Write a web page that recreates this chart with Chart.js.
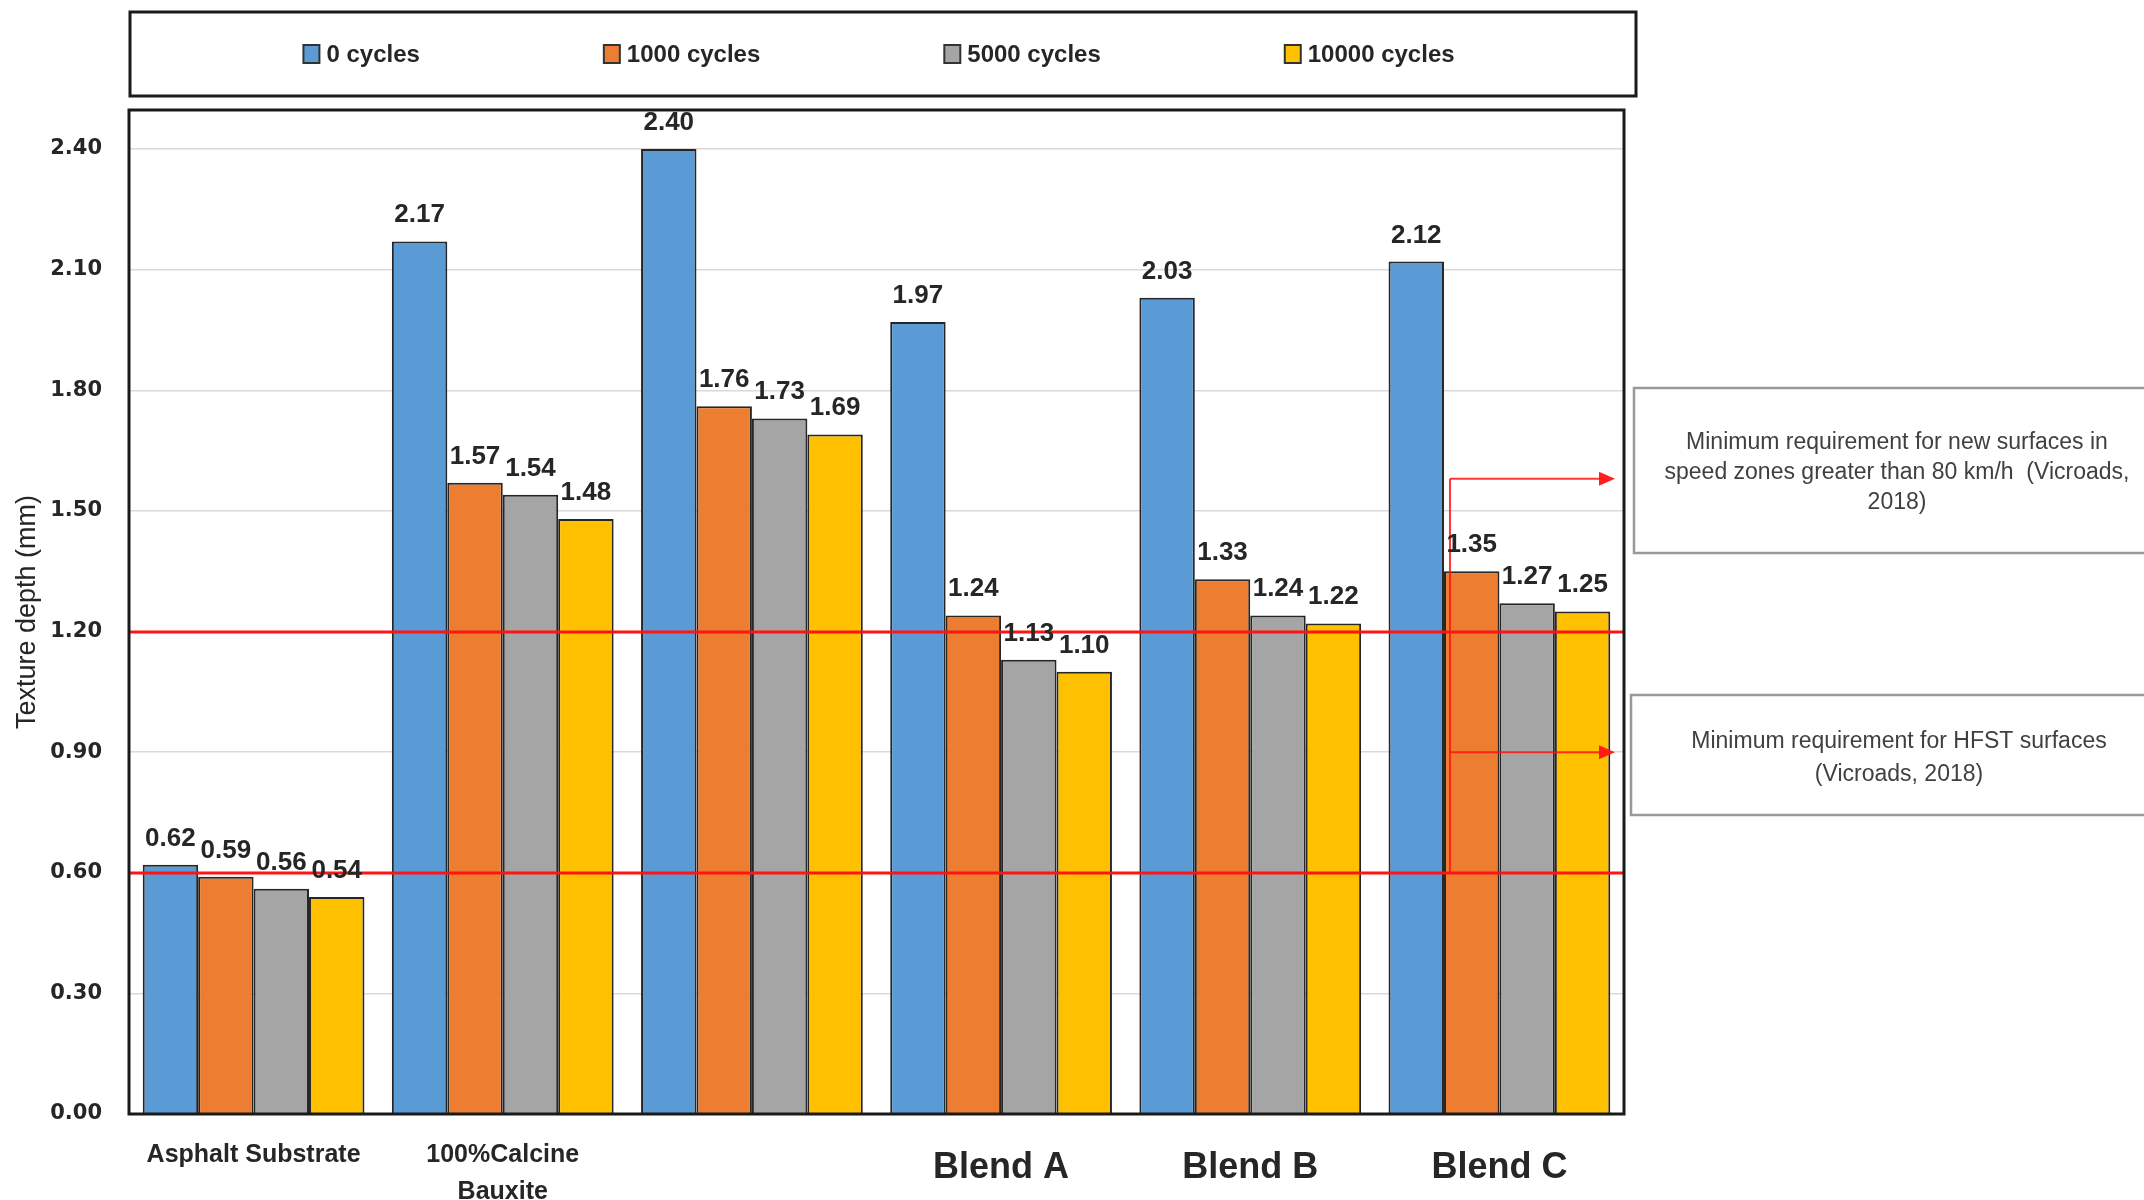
<!DOCTYPE html>
<html>
<head>
<meta charset="utf-8">
<title>Texture depth</title>
<script src="https://cdn.jsdelivr.net/npm/chart.js@4.4.1/dist/chart.umd.min.js"></script>
<style>
  html, body { margin: 0; padding: 0; background: #fff; }
  #chart { display: block; }
</style>
</head>
<body>
<canvas id="chart" width="2144" height="1200"></canvas>
<script>
// texture depth vs. abrasion cycles

/* ======================================================
   DATA
====================================================== */

const categories = ['Asphalt Substrate', ['100%Calcine', 'Bauxite'], '', 'Blend A', 'Blend B', 'Blend C'];
const seriesLabels = ['0 cycles', '1000 cycles', '5000 cycles', '10000 cycles'];

const cycles0     = [0.62, 2.17, 2.40, 1.97, 2.03, 2.12];
const cycles1000  = [0.59, 1.57, 1.76, 1.24, 1.33, 1.35];
const cycles5000  = [0.56, 1.54, 1.73, 1.13, 1.24, 1.27];
const cycles10000 = [0.54, 1.48, 1.69, 1.10, 1.22, 1.25];

const yTicks = [0, 0.3, 0.6, 0.9, 1.2, 1.5, 1.8, 2.1, 2.4];
const thresholds = [1.2, 0.6];    // red limit lines
const arrowLevels = [1.58, 0.9];  // pointer arrows to the notes

const noteTexts = [
  ['Minimum requirement for new surfaces in', 'speed zones greater than 80 km/h  (Vicroads,', '2018)'],
  ['Minimum requirement for HFST surfaces', '(Vicroads, 2018)']
];

/* ======================================================
   STYLE
====================================================== */

const COLORS = ['#5b9bd5', '#ed7d31', '#a5a5a5', '#ffc000'];
const TEXT = '#262626';
const SANS = '"Liberation Sans", Arial, sans-serif';

/* ======================================================
   PLUGINS
====================================================== */

// red limit lines + arrows
const limitLines = {
  id: 'limitLines',
  afterDatasetsDraw(chart) {
    const { ctx, chartArea: a, scales: { y } } = chart;
    ctx.save();
    ctx.strokeStyle = '#ff1414';
    ctx.lineWidth = 3;
    thresholds.forEach(v => {
      const py = Math.round(y.getPixelForValue(v));
      ctx.beginPath();
      ctx.moveTo(a.left, py);
      ctx.lineTo(a.right, py);
      ctx.stroke();
    });

    const el = chart.getDatasetMeta(1).data[categories.length - 1];
    const vx = el.x - el.width / 2 + 6;
    const yTop = y.getPixelForValue(arrowLevels[0]);
    const yBot = y.getPixelForValue(thresholds[1]);
    ctx.strokeStyle = 'rgba(255,20,20,0.85)';
    ctx.fillStyle = 'rgba(255,20,20,0.95)';
    ctx.lineWidth = 2;
    ctx.beginPath();
    ctx.moveTo(vx, yTop);
    ctx.lineTo(vx, yBot);
    ctx.stroke();
    arrowLevels.forEach(v => {
      const py = y.getPixelForValue(v);
      const tip = a.right - 9;
      ctx.beginPath();
      ctx.moveTo(vx, py);
      ctx.lineTo(tip - 12, py);
      ctx.stroke();
      ctx.beginPath();
      ctx.moveTo(tip, py);
      ctx.lineTo(tip - 16, py - 7);
      ctx.lineTo(tip - 16, py + 7);
      ctx.closePath();
      ctx.fill();
    });
    ctx.restore();
  }
};

// value labels above bars
const valueLabels = {
  id: 'valueLabels',
  afterDatasetsDraw(chart) {
    const ctx = chart.ctx;
    ctx.save();
    ctx.font = 'bold 26px ' + SANS;
    ctx.fillStyle = TEXT;
    ctx.textAlign = 'center';
    ctx.textBaseline = 'alphabetic';
    chart.data.datasets.forEach((ds, i) => {
      chart.getDatasetMeta(i).data.forEach((bar, j) => {
        ctx.fillText(ds.data[j].toFixed(2), bar.x, bar.y - 19);
      });
    });
    ctx.restore();
  }
};

// plot frame, legend box, note boxes
const decorations = {
  id: 'decorations',
  afterDraw(chart) {
    const { ctx, chartArea: a } = chart;
    ctx.save();

    // plot frame
    ctx.strokeStyle = '#1a1a1a';
    ctx.lineWidth = 3;
    ctx.strokeRect(a.left, a.top, a.right - a.left, a.bottom - a.top);

    // legend box
    const lx = a.left + 1, lw = 1636 - a.left - 1, ly = 12, lh = 84;
    ctx.strokeRect(lx, ly, lw, lh);

    ctx.font = 'bold 24px ' + SANS;
    ctx.textBaseline = 'middle';
    ctx.textAlign = 'left';
    const boxW = 16, boxH = 18, gapIn = 7, gapOut = 184;
    const widths = chart.data.datasets.map(ds => boxW + gapIn + ctx.measureText(ds.label).width);
    const total = widths.reduce((s, w) => s + w, 0) + gapOut * (widths.length - 1);
    let x = lx + lw / 2 - total / 2 - 4;
    const cy = ly + lh / 2;
    chart.data.datasets.forEach((ds, i) => {
      ctx.fillStyle = ds.backgroundColor;
      ctx.fillRect(x, cy - boxH / 2, boxW, boxH);
      ctx.lineWidth = 2;
      ctx.strokeStyle = '#333';
      ctx.strokeRect(x, cy - boxH / 2, boxW, boxH);
      ctx.fillStyle = TEXT;
      ctx.fillText(ds.label, x + boxW + gapIn, cy + 1);
      x += widths[i] + gapOut;
    });

    // note boxes
    const notes = [
      { x: 1634, y: 388, h: 165, cx: 1897, top: 443, step: 30 },
      { x: 1631, y: 695, h: 120, cx: 1899, top: 742, step: 33 }
    ];
    ctx.font = '23px ' + SANS;
    ctx.textAlign = 'center';
    notes.forEach((n, k) => {
      ctx.strokeStyle = '#999';
      ctx.lineWidth = 2.5;
      ctx.strokeRect(n.x, n.y, 2144 - n.x + 20, n.h);
      ctx.fillStyle = '#404040';
      noteTexts[k].forEach((line, li) => ctx.fillText(line, n.cx, n.top + li * n.step));
    });

    ctx.restore();
  }
};

/* ======================================================
   CHART
====================================================== */

const seriesValues = [cycles0, cycles1000, cycles5000, cycles10000];

new Chart(document.getElementById('chart'), {
  type: 'bar',
  data: {
    labels: categories,
    datasets: seriesValues.map((vals, i) => ({
      label: seriesLabels[i],
      data: vals,
      backgroundColor: COLORS[i],
      borderColor: '#262626',
      borderWidth: 2,
      categoryPercentage: 0.89,
      barPercentage: 1.0
    }))
  },
  options: {
    responsive: false,
    animation: false,
    devicePixelRatio: 1,
    layout: { padding: { left: 0, top: 110, right: 520, bottom: 0 } },
    plugins: {
      legend: { display: false },
      tooltip: { enabled: false }
    },
    scales: {
      x: {
        grid: { display: false, drawTicks: false },
        border: { display: false },
        afterFit: s => { s.height = 86; },
        ticks: {
          autoSkip: false,
          maxRotation: 0,
          padding: 23,
          color: TEXT,
          font: c => c.index >= 3
            ? { family: SANS, size: 36, weight: 'bold', lineHeight: 1.7 }
            : { family: SANS, size: 25, weight: 'bold', lineHeight: 1.48 }
        }
      },
      y: {
        min: 0,
        max: 2.497,
        afterBuildTicks: s => { s.ticks = yTicks.map(v => ({ value: v })); },
        afterFit: s => { s.width = 129; },
        grid: { color: '#d9d9d9', lineWidth: 1.5, drawTicks: false },
        border: { display: false },
        ticks: {
          padding: 27,
          color: TEXT,
          font: { family: '"DejaVu Sans", Verdana, sans-serif', size: 21, weight: 'bold' },
          callback: v => v.toFixed(2)
        },
        title: {
          display: true,
          text: 'Texture depth (mm)',
          color: TEXT,
          font: { family: SANS, size: 27 },
          padding: { top: 11, bottom: 0 }
        }
      }
    }
  },
  plugins: [limitLines, valueLabels, decorations]
});
</script>
</body>
</html>
